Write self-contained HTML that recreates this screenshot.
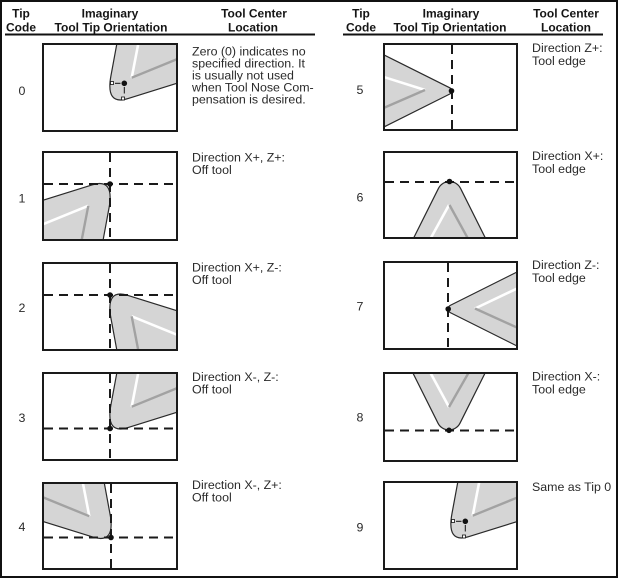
<!DOCTYPE html>
<html><head><meta charset="utf-8"><style>
html,body{margin:0;padding:0;background:#fff;}
svg{display:block;}
text{font-family:"Liberation Sans",Arial,sans-serif;}
.h{font-size:12px;font-weight:bold;fill:#151515;text-anchor:middle;}
.n{font-size:12.4px;fill:#2a2a2a;text-anchor:middle;}
.d{font-size:12.4px;fill:#2a2a2a;}
.tool{fill:#d5d5d5;stroke:#2a2a2a;stroke-width:1.2;}
.w{stroke:#fff;stroke-width:2.6;fill:none;}
.g{stroke:#a2a2a2;stroke-width:2.4;fill:none;}
.dash{stroke:#1a1a1a;stroke-width:2;stroke-dasharray:9 6;fill:none;}
.box{fill:none;stroke:#1a1a1a;stroke-width:2;}
.dot{fill:#111;}
</style></head><body>
<svg width="618" height="578" viewBox="0 0 618 578" xmlns="http://www.w3.org/2000/svg" xmlns:xlink="http://www.w3.org/1999/xlink">
<defs>
<path id="tL" d="M119.2,360 L110.9,405 Q105.5,434.7 128,427.6 L200,405.1 L200,360 Z"/>
<clipPath id="c0"><rect x="43" y="44" width="134" height="87"/></clipPath>
<clipPath id="c1"><rect x="43" y="152" width="134" height="88"/></clipPath>
<clipPath id="c2"><rect x="43" y="263" width="134" height="87"/></clipPath>
<clipPath id="c3"><rect x="43" y="373" width="134" height="87"/></clipPath>
<clipPath id="c4"><rect x="43" y="483" width="134" height="86"/></clipPath>
<clipPath id="c5"><rect x="384" y="44" width="133" height="86"/></clipPath>
<clipPath id="c6"><rect x="384" y="152" width="133" height="86"/></clipPath>
<clipPath id="c7"><rect x="384" y="262" width="133" height="87"/></clipPath>
<clipPath id="c8"><rect x="384" y="373" width="133" height="88"/></clipPath>
<clipPath id="c9"><rect x="384" y="482" width="133" height="87"/></clipPath>
</defs>
<rect x="0" y="0" width="618" height="578" fill="#fff"/>
<rect x="1" y="1" width="616" height="576" fill="none" stroke="#111" stroke-width="2"/>

<!-- headers -->
<text class="h" x="21" y="17.3">Tip</text>
<text class="h" x="21" y="31.5">Code</text>
<text class="h" x="110" y="17.3">Imaginary</text>
<text class="h" x="111" y="31.5">Tool Tip Orientation</text>
<text class="h" x="254" y="17.3">Tool Center</text>
<text class="h" x="253" y="31.5">Location</text>
<text class="h" x="361" y="17.3">Tip</text>
<text class="h" x="361" y="31.5">Code</text>
<text class="h" x="451" y="17.3">Imaginary</text>
<text class="h" x="450" y="31.5">Tool Tip Orientation</text>
<text class="h" x="566" y="17.3">Tool Center</text>
<text class="h" x="566" y="31.5">Location</text>
<line x1="5" y1="34.5" x2="315" y2="34.5" stroke="#111" stroke-width="2"/>
<line x1="343" y1="34.5" x2="603" y2="34.5" stroke="#111" stroke-width="2"/>

<!-- numbers -->
<text class="n" x="22" y="95">0</text>
<text class="n" x="22" y="202.5">1</text>
<text class="n" x="22" y="312">2</text>
<text class="n" x="22" y="422">3</text>
<text class="n" x="22" y="531">4</text>
<text class="n" x="360" y="94">5</text>
<text class="n" x="360" y="201.5">6</text>
<text class="n" x="360" y="310.5">7</text>
<text class="n" x="360" y="421.5">8</text>
<text class="n" x="360" y="531.5">9</text>

<!-- descriptions -->
<text class="d" x="192" y="55.5">Zero (0) indicates no</text>
<text class="d" x="192" y="67.5">specified direction. It</text>
<text class="d" x="192" y="79.5">is usually not used</text>
<text class="d" x="192" y="91.5">when Tool Nose Com-</text>
<text class="d" x="192" y="103.5">pensation is desired.</text>
<text class="d" x="192" y="161.5">Direction X+, Z+:</text>
<text class="d" x="192" y="174">Off tool</text>
<text class="d" x="192" y="271.5">Direction X+, Z-:</text>
<text class="d" x="192" y="284">Off tool</text>
<text class="d" x="192" y="381">Direction X-, Z-:</text>
<text class="d" x="192" y="393.5">Off tool</text>
<text class="d" x="192" y="489">Direction X-, Z+:</text>
<text class="d" x="192" y="501.5">Off tool</text>
<text class="d" x="532" y="52">Direction Z+:</text>
<text class="d" x="532" y="65">Tool edge</text>
<text class="d" x="532" y="160">Direction X+:</text>
<text class="d" x="532" y="173">Tool edge</text>
<text class="d" x="532" y="269">Direction Z-:</text>
<text class="d" x="532" y="282">Tool edge</text>
<text class="d" x="532" y="380.5">Direction X-:</text>
<text class="d" x="532" y="393.5">Tool edge</text>
<text class="d" x="532" y="491">Same as Tip 0</text>

<!-- Box 0 -->
<g clip-path="url(#c0)">
<use href="#tL" xlink:href="#tL" class="tool" transform="translate(0,-329)"/>
<line class="w" x1="138.8" y1="41" x2="131.7" y2="77.7"/>
<line class="g" x1="131.7" y1="77.7" x2="180" y2="58"/>
</g>
<line x1="115" y1="83.3" x2="120.5" y2="83.3" stroke="#111" stroke-width="1"/>
<line x1="124.3" y1="87" x2="124.3" y2="93.5" stroke="#111" stroke-width="1"/>
<rect x="110.5" y="81.5" width="3" height="3" fill="#fff" stroke="#111" stroke-width="0.8"/>
<rect x="121.5" y="97" width="3" height="3" fill="#fff" stroke="#111" stroke-width="0.8"/>
<circle class="dot" cx="124.3" cy="83.3" r="2.8"/>
<rect class="box" x="43" y="44" width="134" height="87"/>

<!-- Box 1 -->
<g clip-path="url(#c1)">
<use href="#tL" xlink:href="#tL" class="tool" transform="matrix(-1,0,0,-1,220,612.5)"/>
<line class="w" x1="88.3" y1="205.8" x2="40" y2="225.5"/>
<line class="g" x1="81.2" y1="242.5" x2="88.3" y2="205.8"/>
</g>
<line class="dash" x1="110" y1="153" x2="110" y2="240"/>
<line class="dash" x1="44" y1="184" x2="177" y2="184"/>
<circle class="dot" cx="110" cy="184" r="2.8"/>
<rect class="box" x="43" y="152" width="134" height="88"/>

<!-- Box 2 -->
<g clip-path="url(#c2)">
<use href="#tL" xlink:href="#tL" class="tool" transform="matrix(1,0,0,-1,0,723)"/>
<line class="w" x1="131.7" y1="316.3" x2="180" y2="336"/>
<line class="g" x1="138.8" y1="353" x2="131.7" y2="316.3"/>
</g>
<line class="dash" x1="110" y1="264" x2="110" y2="350"/>
<line class="dash" x1="44" y1="295" x2="177" y2="295"/>
<circle class="dot" cx="110" cy="295" r="2.8"/>
<rect class="box" x="43" y="263" width="134" height="87"/>

<!-- Box 3 -->
<g clip-path="url(#c3)">
<use href="#tL" xlink:href="#tL" class="tool"/>
<line class="w" x1="138.8" y1="370" x2="131.7" y2="406.7"/>
<line class="g" x1="131.7" y1="406.7" x2="180" y2="387"/>
</g>
<line class="dash" x1="110" y1="374" x2="110" y2="460"/>
<line class="dash" x1="44" y1="428.5" x2="177" y2="428.5"/>
<circle class="dot" cx="110" cy="428.5" r="2.8"/>
<rect class="box" x="43" y="373" width="134" height="87"/>

<!-- Box 4 -->
<g clip-path="url(#c4)">
<use href="#tL" xlink:href="#tL" class="tool" transform="matrix(-1,0,0,1,221,109.5)"/>
<line class="w" x1="82.2" y1="479.5" x2="89.3" y2="516.2"/>
<line class="g" x1="89.3" y1="516.2" x2="41" y2="496.5"/>
</g>
<line class="dash" x1="111" y1="484" x2="111" y2="569"/>
<line class="dash" x1="44" y1="537.5" x2="177" y2="537.5"/>
<circle class="dot" cx="111" cy="537.5" r="2.8"/>
<rect class="box" x="43" y="483" width="134" height="86"/>

<!-- Box 5 -->
<g clip-path="url(#c5)">
<path class="tool" d="M370,47.9 L449.56,87.68 A3.6 3.6 0 0 1 449.56,94.12 L370,133.9 Z"/>
<line class="w" x1="380" y1="75.8" x2="425" y2="90"/>
<line class="g" x1="425" y1="90" x2="380" y2="109.6"/>
</g>
<line class="dash" x1="452" y1="45" x2="452" y2="130"/>
<circle class="dot" cx="451.5" cy="90.9" r="2.8"/>
<rect class="box" x="384" y="44" width="133" height="86"/>

<!-- Box 6 -->
<g clip-path="url(#c6)">
<path class="tool" d="M407.65,250 L438.5,188.3 A12.3 12.3 0 0 1 460.5,188.3 L491.35,250 Z"/>
<line class="w" x1="449" y1="205" x2="427" y2="245"/>
<line class="g" x1="449.5" y1="205" x2="471.5" y2="245"/>
</g>
<line class="dash" x1="385" y1="182" x2="517" y2="182"/>
<circle class="dot" cx="449.5" cy="181.5" r="2.8"/>
<rect class="box" x="384" y="152" width="133" height="86"/>

<!-- Box 7 -->
<g clip-path="url(#c7)">
<path class="tool" d="M530,265.5 L450.5,305.24 A4.2 4.2 0 0 0 450.5,312.76 L530,352.5 Z"/>
<line class="w" x1="475" y1="308.5" x2="521" y2="286.6"/>
<line class="g" x1="475" y1="308.5" x2="521" y2="329.4"/>
</g>
<line class="dash" x1="448" y1="263" x2="448" y2="349"/>
<circle class="dot" cx="448.2" cy="309" r="2.8"/>
<rect class="box" x="384" y="262" width="133" height="87"/>

<!-- Box 8 -->
<g clip-path="url(#c8)">
<path class="tool" d="M408.9,365 L438,423.2 A12.3 12.3 0 0 0 460,423.2 L489.1,365 Z"/>
<line class="w" x1="427" y1="366.5" x2="449" y2="407"/>
<line class="g" x1="449" y1="407" x2="472" y2="366.8"/>
</g>
<line class="dash" x1="385" y1="430.5" x2="517" y2="430.5"/>
<circle class="dot" cx="449" cy="430.3" r="2.8"/>
<rect class="box" x="384" y="373" width="133" height="88"/>

<!-- Box 9 -->
<g clip-path="url(#c9)">
<use href="#tL" xlink:href="#tL" class="tool" transform="translate(341,109)"/>
<line class="w" x1="479.8" y1="479" x2="472.7" y2="515.7"/>
<line class="g" x1="472.7" y1="515.7" x2="521" y2="496"/>
</g>
<line x1="456" y1="521.3" x2="461.5" y2="521.3" stroke="#111" stroke-width="1"/>
<line x1="465.3" y1="525" x2="465.3" y2="531.5" stroke="#111" stroke-width="1"/>
<rect x="451.5" y="519.5" width="3" height="3" fill="#fff" stroke="#111" stroke-width="0.8"/>
<rect x="462.5" y="535" width="3" height="3" fill="#fff" stroke="#111" stroke-width="0.8"/>
<circle class="dot" cx="465.3" cy="521.3" r="2.8"/>
<rect class="box" x="384" y="482" width="133" height="87"/>
</svg>
</body></html>
